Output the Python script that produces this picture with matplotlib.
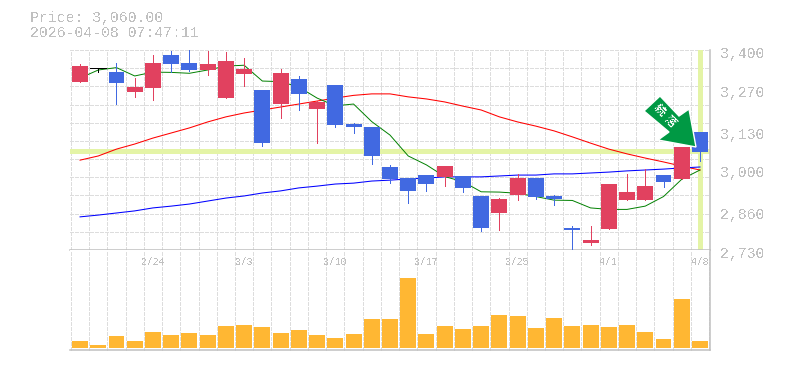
import numpy as np
import matplotlib
matplotlib.use('Agg')
import matplotlib.pyplot as plt
from matplotlib.patches import Polygon
from matplotlib.transforms import Affine2D

plt.rcParams['text.antialiased'] = False
MONO = ['Liberation Mono', 'DejaVu Sans Mono']

title_price = 'Price: 3,060.00'
title_time = '2026-04-08 07:47:11'
current_price = 3060

price_ticks = [3400, 3270, 3130, 3000, 2860, 2730]
date_idx = [4, 9, 14, 19, 24, 29, 34]
date_labels = ['2/24', '3/3', '3/10', '3/17', '3/25', '4/1', '4/8']

# body start / end, colour comes from the direction
body_top = [3346, 3340, 3326, 3276, 3356, 3383, 3356, 3353, 3363, 3336, 3266, 3323, 3303, 3226, 3283, 3152,
            3142, 3008, 2971, 2981, 3011, 2978, 2911, 2901, 2971, 2971, 2911, 2804, 2764, 2951, 2924, 2944,
            2981, 3075, 3125]
body_bot = [3293, 3340, 3289, 3259, 3273, 3353, 3333, 3333, 3239, 3320, 3088, 3219, 3253, 3202, 3149, 3142,
            3045, 2968, 2928, 2951, 2975, 2938, 2804, 2854, 2914, 2908, 2901, 2797, 2753, 2800, 2897, 2897,
            2958, 2968, 3058]
wick_top = [3353, 3340, 3356, 3306, 3383, 3397, 3400, 3397, 3393, 3373, 3266, 3336, 3313, 3229, 3283, 3155,
            3142, 3015, 2971, 2981, 3011, 2978, 2911, 2904, 2985, 2971, 2914, 2810, 2810, 2951, 2985, 3001,
            2981, 3075, 3125]
wick_bot = [3293, 3326, 3219, 3243, 3233, 3326, 3330, 3316, 3239, 3279, 3078, 3172, 3199, 3088, 3142, 3122,
            3018, 2954, 2887, 2928, 2944, 2924, 2794, 2797, 2897, 2901, 2881, 2727, 2747, 2800, 2897, 2897,
            2941, 2968, 3028]
is_up = [1, 0, 0, 1, 1, 0, 0, 1, 1, 1, 0, 1, 0, 1, 0, 0, 0, 0, 0, 0, 1, 0, 0, 1, 1, 0, 0, 0, 1, 1, 1, 1, 0, 1, 0]

ma_short = [3306, 3333, 3341, 3313, 3326, 3325, 3322, 3333, 3346, 3349, 3296, 3294, 3276, 3239, 3213, 3219,
            3160, 3115, 3045, 3015, 2976, 2959, 2925, 2924, 2920, 2909, 2897, 2896, 2871, 2866, 2866, 2877,
            2909, 2967, 2998]
ma_mid = [3031, 3045, 3068, 3085, 3105, 3122, 3139, 3159, 3176, 3189, 3199, 3209, 3219, 3229, 3239, 3248,
          3253, 3253, 3243, 3236, 3226, 3212, 3199, 3176, 3159, 3145, 3129, 3109, 3088, 3068, 3052, 3038,
          3025, 3011, 2998]
ma_long = [2841, 2847, 2854, 2861, 2871, 2877, 2884, 2894, 2904, 2911, 2921, 2928, 2938, 2944, 2951, 2954,
           2961, 2964, 2968, 2971, 2975, 2975, 2975, 2978, 2981, 2981, 2985, 2985, 2988, 2991, 2995, 2998,
           3001, 3005, 3008]
volume = [7, 3, 12, 7, 16, 13, 15, 13, 22, 23, 21, 15, 18, 13, 10, 14, 30, 30, 71, 14, 22, 19, 22, 34, 33,
          20, 31, 22, 23, 21, 23, 16, 9, 50, 7]

RED = '#e1415f'
BLUE = '#4169e1'
ORANGE = '#ffb733'
GRID = '#dddddd'
EDGE = '#c0c0c0'
TEXT = '#c0c0c0'
HILITE = '#e4f4a6'

W, H = 785, 370
fig = plt.figure(figsize=(W / 100, H / 100), dpi=100)
L, R, T, M, B = 70, 710, 50, 250, 350
ax = fig.add_axes([L / W, 1 - M / H, (R - L) / W, (M - T) / H])
axv = fig.add_axes([L / W, 1 - B / H, (R - L) / W, (B - M) / H])

x = np.arange(len(volume))
xlim = (-0.55, 34.55)
edges = np.arange(-0.5, 35)
grid_kw = dict(color=GRID, lw=0.72, dashes=(3, 2), dash_capstyle='butt', antialiased=False, zorder=1, clip_on=False)

# price panel
ax.set_xlim(xlim)
ax.set_ylim(2730, 3400)
for e in edges[:-1]:
    ax.axvline(e, **grid_kw)
for g in np.linspace(2730, 3400, 12)[1:]:
    ax.axhline(g, **grid_kw)

ax.axhline(current_price, color=HILITE, lw=2.4, antialiased=False, zorder=2)
ax.axvline(x[-1], ymin=0.005, ymax=1, color=HILITE, lw=2.4, antialiased=False, zorder=2)

ax.plot(x, ma_mid, color='#ff0000', lw=0.75, zorder=3)
ax.plot(x, ma_long, color='#0000ff', lw=0.75, zorder=3)
ax.plot(x, ma_short, color='#008000', lw=0.7, zorder=3)

for i in x:
    col = RED if is_up[i] else BLUE
    if body_top[i] == body_bot[i]:
        col = 'black'
        ax.hlines(body_top[i], i - 0.44, i + 0.44, color=col, lw=0.72, antialiased=False, zorder=4)
    ax.vlines(i, wick_bot[i], wick_top[i], color=col, lw=0.72, antialiased=False, zorder=4)
    ax.bar(i, body_top[i] - body_bot[i], bottom=body_bot[i], width=0.877, color=col,
           linewidth=0, antialiased=False, zorder=4)

ax.set_xticks([])
ax.yaxis.tick_right()
ax.set_yticks(price_ticks)
ax.set_yticklabels([f'{p:,}' for p in price_ticks], family=MONO, fontsize=10.7, color=TEXT, va='center')
ax.tick_params(axis='y', length=0, pad=7)
for lab in ax.get_yticklabels():
    lab.set_transform(lab.get_transform() + Affine2D().translate(0, -4))
for s in ['left', 'top']:
    ax.spines[s].set_visible(False)
for s in ['right', 'bottom']:
    ax.spines[s].set_color(EDGE)
    ax.spines[s].set_linewidth(1.1)

# volume panel
axv.set_xlim(xlim)
axv.set_ylim(-2, 100)
for e in edges:
    axv.axvline(e, **grid_kw)
axv.bar(x, volume, width=0.877, color=ORANGE, linewidth=0, antialiased=False, zorder=3)
axv.set_yticks([])
axv.set_xticks(date_idx)
axv.set_xticklabels(date_labels, family=MONO, fontsize=7, color=TEXT)
axv.tick_params(axis='x', bottom=False, top=False, labelbottom=False, labeltop=True, length=0, pad=-12.5)
for s in ['left', 'top']:
    axv.spines[s].set_visible(False)
for s in ['right', 'bottom']:
    axv.spines[s].set_color(EDGE)
    axv.spines[s].set_linewidth(1.1)

# arrow badge, in pixels of the figure
px = Affine2D().scale(1, -1).translate(0, H)
arrow = [(660, 96), (644, 111), (669, 132), (658, 140), (696, 147), (689, 109), (679, 116)]
fig.add_artist(Polygon(arrow, closed=True, fc='#009944', ec='white', lw=1.0, transform=px, zorder=10))
fig.text(660 / W, 1 - 110 / H, '続', family=['Noto Sans CJK JP', 'DejaVu Sans'], fontsize=8, color='white',
         rotation=-45, rotation_mode='anchor', ha='center', va='center', zorder=11)
fig.text(670 / W, 1 - 122 / H, '落', family=['Noto Sans CJK JP', 'DejaVu Sans'], fontsize=8, color='white',
         rotation=-45, rotation_mode='anchor', ha='center', va='center', zorder=11)

fig.text(30 / W, 1 - 18 / H, title_price, family=MONO, fontsize=10.7, color=TEXT, va='center')
fig.text(30 / W, 1 - 33 / H, title_time, family=MONO, fontsize=10.7, color=TEXT, va='center')

fig.savefig('out.png', dpi=100)
